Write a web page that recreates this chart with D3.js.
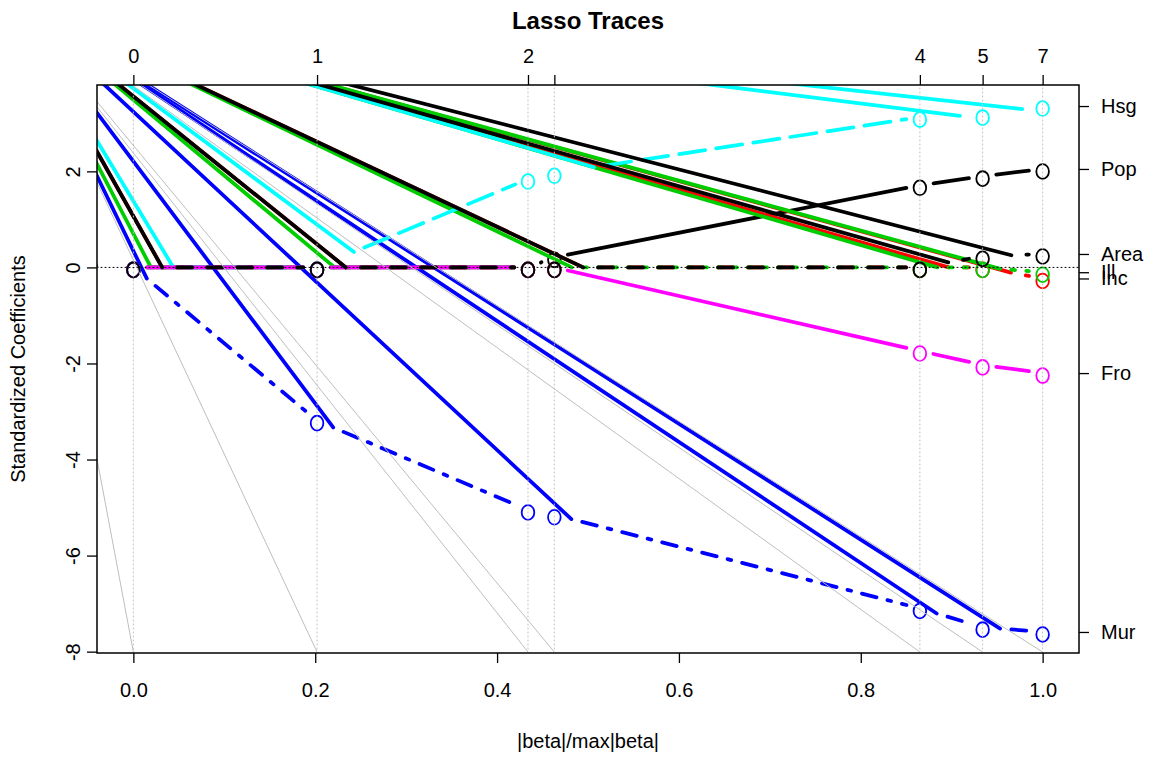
<!DOCTYPE html>
<html>
<head>
<meta charset="utf-8">
<script src="https://cdn.jsdelivr.net/npm/d3@7"></script>
<style>
  body { margin: 0; background: #fff; }
  text { font-family: "Liberation Sans", Arial, Helvetica, sans-serif; fill: #000; }
</style>
</head>
<body>
<svg id="chart" width="1153" height="757"></svg>
<script>
// ---- data: lasso path, |beta|/max|beta| at each step and standardized coefficients ----
const steps = [0, 0.202, 0.434, 0.463, 0.865, 0.934, 1.0];
const dfLabels = ["0", "1", "2", "3", "4", "5", "7"];
const varNames = ["Pop", "Inc", "Ill", "Mur", "Hsg", "Fro", "Area"];
const coefPop  = [0, 0, 0, 0.21, 1.71, 1.90, 2.05];
const coefInc  = [0, 0, 0, 0, 0, 0, -0.23];
const coefIll  = [0, 0, 0, 0, 0, 0, -0.10];
const coefMur  = [0, -3.19, -5.05, -5.15, -7.10, -7.49, -7.59];
const coefHsg  = [0, 0, 1.84, 1.96, 3.13, 3.17, 3.36];
const coefFro  = [0, 0, 0, 0, -1.74, -2.03, -2.20];
const coefArea = [0, 0, 0, 0, 0, 0.23, 0.28];
const xTicks = [0, 0.2, 0.4, 0.6, 0.8, 1.0];
const yTicks = [-8, -6, -4, -2, 0, 2];

const coefs = [coefPop, coefInc, coefIll, coefMur, coefHsg, coefFro, coefArea];

// ---- styling (matplot defaults: col 1:6, lty 1:5) ----
const palette = ["#000000", "#FF0000", "#00CD00", "#0000FF", "#00FFFF", "#FF00FF"];
const ltyPatterns = [null, [4, 4], [1, 3], [1, 3, 4, 3], [7, 3]];
const lineW = 3.75;          // trace width; dash units scale with it
const thinW = 1;             // reference lines
const gapPx = 13.8;          // type = "b" gap around each marker
const penOrigin = [10, -3];  // dashed strokes start their first dash from here
const markerDy = 2.5;

const svg = d3.select("#chart");
const plot = { left: 97, right: 1079, top: 85, bottom: 653 };

// R-style 4% axis expansion
const xr = d3.extent(steps);
const yr = d3.extent(coefs.flat());
const xPad = 0.04 * (xr[1] - xr[0]);
const yPad = 0.04 * (yr[1] - yr[0]);
const x = d3.scaleLinear().domain([xr[0] - xPad, xr[1] + xPad]).range([plot.left, plot.right]);
const y = d3.scaleLinear().domain([yr[0] - yPad, yr[1] + yPad]).range([plot.bottom, plot.top]);

svg.append("defs").append("clipPath").attr("id", "plotClip")
  .append("rect")
  .attr("x", plot.left).attr("y", plot.top)
  .attr("width", plot.right - plot.left).attr("height", plot.bottom - plot.top);

const g = svg.append("g").attr("clip-path", "url(#plotClip)");

// One stroked segment; dashed strokes get their first dash drawn from penOrigin.
function strokeSegment(parent, a, b, color, width, pattern, unit) {
  const dx = b[0] - a[0], dy = b[1] - a[1];
  const len = Math.hypot(dx, dy);
  if (len <= 0) return;
  const ux = dx / len, uy = dy / len;
  if (!pattern) {
    parent.append("line")
      .attr("x1", a[0]).attr("y1", a[1]).attr("x2", b[0]).attr("y2", b[1])
      .attr("stroke", color).attr("stroke-width", width).attr("stroke-linecap", "round");
    return;
  }
  const dash = pattern.map(d => d * unit);
  const on1 = dash[0];
  const firstEnd = on1 >= len ? b : [a[0] + ux * on1, a[1] + uy * on1];
  parent.append("line")
    .attr("x1", penOrigin[0]).attr("y1", penOrigin[1])
    .attr("x2", firstEnd[0]).attr("y2", firstEnd[1])
    .attr("stroke", color).attr("stroke-width", width).attr("stroke-linecap", "round");
  if (on1 < len) {
    parent.append("line")
      .attr("x1", firstEnd[0]).attr("y1", firstEnd[1]).attr("x2", b[0]).attr("y2", b[1])
      .attr("stroke", color).attr("stroke-width", width).attr("stroke-linecap", "round")
      .attr("stroke-dasharray", dash.join(","))
      .attr("stroke-dashoffset", on1);
  }
}

// ---- coefficient traces (type = "b") ----
coefs.forEach((vals, i) => {
  const color = palette[i % palette.length];
  const pattern = ltyPatterns[i % ltyPatterns.length];
  const layer = g.append("g");
  const pts = steps.map((s, k) => [x(s), y(vals[k])]);
  for (let k = 0; k < pts.length - 1; k++) {
    const p0 = pts[k], p1 = pts[k + 1];
    const dd = Math.hypot(p1[0] - p0[0], p1[1] - p0[1]);
    const f = gapPx / dd;
    if (f >= 0.5) continue;
    const a = [p0[0] + f * (p1[0] - p0[0]), p0[1] + f * (p1[1] - p0[1])];
    const b = [p1[0] - f * (p1[0] - p0[0]), p1[1] - f * (p1[1] - p0[1])];
    strokeSegment(layer, a, b, color, lineW, pattern, lineW);
  }
  layer.selectAll("ellipse").data(pts).join("ellipse")
    .attr("cx", d => d[0]).attr("cy", d => d[1] + markerDy)
    .attr("rx", 6.3).attr("ry", 7.4)
    .attr("fill", "none").attr("stroke", color).attr("stroke-width", 1.8);
});

// ---- step breaks (gray dotted verticals, drawn bottom to top) ----
steps.forEach(s => {
  strokeSegment(g, [x(s), plot.bottom], [x(s), plot.top], "#BEBEBE", thinW, [1, 3], thinW);
});

// ---- zero line ----
strokeSegment(g, [plot.left, y(0)], [plot.right, y(0)], "#000000", thinW, [1, 3], thinW);

// ---- axes ----
const fontPx = 20;
const axisStyle = sel => {
  sel.select(".domain").remove();
  sel.selectAll(".tick line").attr("stroke", "#000").attr("stroke-width", 1.3);
  sel.selectAll(".tick text").attr("font-size", fontPx).attr("font-family", null).attr("fill", "#000");
};

// bottom
svg.append("g").attr("transform", `translate(0,${plot.bottom})`)
  .call(d3.axisBottom(x).tickValues(xTicks).tickFormat(d3.format(".1f")).tickSize(10).tickPadding(20))
  .call(axisStyle);

// left (labels parallel to the axis)
const leftAxis = svg.append("g").attr("transform", `translate(${plot.left},0)`)
  .call(d3.axisLeft(y).tickValues(yTicks).tickFormat(d3.format("d")).tickSize(10))
  .call(axisStyle);
leftAxis.selectAll(".tick text")
  .attr("x", null).attr("dy", null)
  .attr("text-anchor", "middle")
  .attr("transform", "translate(-17,0) rotate(-90)")
  .text(d => d < 0 ? "-" + Math.abs(d) : String(d));

// top: degrees of freedom at each step, overlapping labels dropped
const topAxis = svg.append("g").attr("transform", `translate(0,${plot.top})`)
  .call(d3.axisTop(x).tickValues(steps).tickFormat((d, i) => dfLabels[i]).tickSize(10).tickPadding(12))
  .call(axisStyle);
{
  const minGap = fontPx * 0.833;
  let lastRight = -Infinity;
  topAxis.selectAll(".tick text").each(function () {
    const bb = this.getBBox();
    const cx = x(d3.select(this.parentNode).datum());
    const l = cx - bb.width / 2, r = cx + bb.width / 2;
    if (l < lastRight + minGap) d3.select(this).remove();
    else lastRight = r;
  });
}

// right: variable names at the final coefficients
const finals = coefs.map(v => v[v.length - 1]);
svg.append("g").attr("transform", `translate(${plot.right},0)`)
  .call(d3.axisRight(y).tickValues(finals).tickFormat((d, i) => varNames[i]).tickSize(10).tickPadding(12))
  .call(axisStyle);

// box
svg.append("rect")
  .attr("x", plot.left).attr("y", plot.top)
  .attr("width", plot.right - plot.left).attr("height", plot.bottom - plot.top)
  .attr("fill", "none").attr("stroke", "#000").attr("stroke-width", 1.5);

// ---- titles ----
svg.append("text").attr("x", (plot.left + plot.right) / 2).attr("y", 29)
  .attr("text-anchor", "middle").attr("font-size", 24).attr("font-weight", "bold")
  .text("Lasso Traces");
svg.append("text").attr("x", (plot.left + plot.right) / 2).attr("y", 748)
  .attr("text-anchor", "middle").attr("font-size", fontPx)
  .text("|beta|/max|beta|");
svg.append("text")
  .attr("transform", `translate(25,${(plot.top + plot.bottom) / 2}) rotate(-90)`)
  .attr("text-anchor", "middle").attr("font-size", fontPx)
  .text("Standardized Coefficients");
</script>
</body>
</html>
